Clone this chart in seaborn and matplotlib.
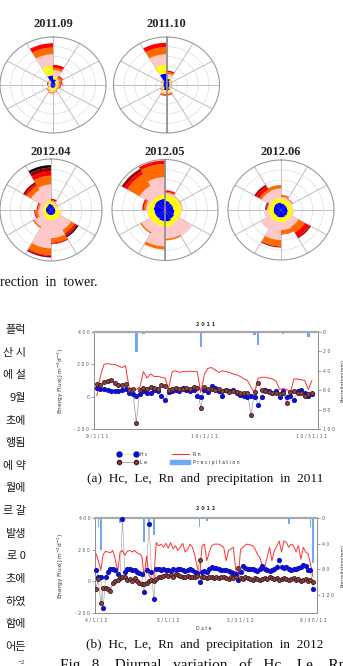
import numpy as np
import pandas as pd
import seaborn as sns
import matplotlib
matplotlib.use('Agg')
import matplotlib.pyplot as plt
from matplotlib.lines import Line2D
from matplotlib.patches import Patch

# ---------------- data ----------------
# wind roses: rows = speed classes (blue, yellow, pink, orange, red, dark red, black)
# columns = 12 direction sectors of 30 deg, starting at N going clockwise
rose_2011_09 = [
    [1.2, 0.6, 0.5, 0.5, 0.5, 0.6, 0.6, 0.6, 0.5, 0.5, 0.6, 2.0],
    [0.6, 0.4, 0.4, 0.3, 0.3, 0.5, 0.6, 0.4, 0.2, 0.2, 0.3, 2.0],
    [1.3, 0.5, 0.3, 0.3, 0.2, 0.3, 0.4, 0.3, 0.2, 0.2, 0.2, 2.4],
    [0.5, 0.5, 0.4, 0.3, 0.2, 0.2, 0.2, 0.2, 0.1, 0.1, 0.1, 1.4],
    [0.6, 0.2, 0.2, 0.1, 0.0, 0.0, 0.0, 0.0, 0.0, 0.0, 0.0, 0.9],
    [0.0, 0.0, 0.0, 0.0, 0.0, 0.0, 0.0, 0.0, 0.0, 0.1, 0.0, 0.0],
    [0.0, 0.0, 0.0, 0.0, 0.0, 0.0, 0.0, 0.0, 0.0, 0.05, 0.0, 0.0],
]
rose_2011_10 = [
    [1.3, 0.8, 0.6, 0.6, 0.7, 1.1, 1.1, 0.7, 0.6, 0.6, 0.8, 2.4],
    [0.4, 0.3, 0.2, 0.2, 0.2, 0.4, 0.4, 0.3, 0.2, 0.2, 0.2, 1.8],
    [0.6, 0.1, 0.1, 0.1, 0.1, 0.3, 0.4, 0.2, 0.1, 0.1, 0.1, 2.2],
    [0.4, 0.1, 0.1, 0.1, 0.1, 0.3, 0.3, 0.2, 0.1, 0.0, 0.1, 1.5],
    [0.3, 0.0, 0.0, 0.0, 0.0, 0.1, 0.1, 0.0, 0.0, 0.0, 0.0, 0.9],
    [0.0] * 12,
    [0.0] * 12,
]
rose_2012_04 = [
    [1.0, 0.8, 0.8, 0.9, 1.0, 1.0, 1.0, 1.0, 1.0, 1.0, 1.0, 1.2],
    [0.4, 0.5, 0.5, 1.0, 1.0, 1.0, 1.0, 0.8, 0.6, 0.5, 0.6, 0.6],
    [0.3, 0.2, 0.2, 0.3, 2.5, 3.5, 5.5, 2.0, 1.0, 0.8, 2.9, 3.2],
    [0.2, 0.1, 0.0, 0.0, 0.8, 0.9, 1.3, 0.3, 0.5, 0.3, 1.0, 1.7],
    [0.3, 0.0, 0.0, 0.0, 0.4, 0.2, 0.2, 0.0, 0.2, 0.2, 0.4, 0.8],
    [0.0, 0.0, 0.0, 0.0, 0.3, 0.1, 0.3, 0.0, 0.0, 0.0, 0.4, 0.8],
    [0.0, 0.0, 0.0, 0.0, 0.2, 0.0, 0.0, 0.0, 0.0, 0.0, 0.0, 0.5],
]
rose_2012_05 = [
    [1.8, 1.6, 1.6, 1.8, 2.0, 2.3, 2.2, 2.0, 2.0, 2.1, 2.2, 2.2],
    [1.2, 1.4, 1.4, 1.2, 1.0, 1.0, 1.0, 1.2, 1.2, 1.0, 0.8, 0.8],
    [0.4, 0.2, 0.2, 0.2, 2.9, 2.4, 4.0, 1.9, 0.2, 0.5, 2.5, 3.5],
    [0.2, 0.1, 0.1, 0.0, 0.0, 0.3, 0.6, 0.3, 0.0, 0.4, 2.7, 2.6],
    [0.3, 0.0, 0.0, 0.0, 0.0, 0.0, 0.0, 0.0, 0.0, 0.3, 0.6, 0.7],
    [0.0, 0.0, 0.0, 0.0, 0.0, 0.0, 0.0, 0.0, 0.0, 0.0, 0.6, 0.0],
    [0.0] * 12,
]
rose_2012_06 = [
    [1.3, 1.2, 1.2, 1.3, 1.4, 1.5, 1.5, 1.4, 1.4, 1.4, 1.5, 1.5],
    [0.9, 0.9, 0.9, 0.9, 0.9, 0.9, 0.9, 0.9, 0.9, 0.9, 0.9, 0.9],
    [0.4, 0.3, 0.2, 0.3, 1.5, 1.6, 3.6, 2.2, 0.9, 0.3, 1.8, 1.9],
    [0.3, 0.2, 0.0, 0.0, 1.4, 0.8, 1.3, 0.0, 0.0, 0.0, 0.5, 0.7],
    [0.1, 0.0, 0.0, 0.0, 1.0, 0.1, 0.0, 0.0, 0.0, 0.2, 0.7, 0.0],
    [0.0, 0.0, 0.0, 0.0, 0.3, 0.0, 0.2, 0.0, 0.0, 0.1, 0.4, 0.0],
    [0.0, 0.0, 0.0, 0.0, 0.0, 0.0, 0.0, 0.0, 0.0, 0.1, 0.0, 0.0],
]
rose_colors = ['#0000FF', '#FFFF00', '#FFC8C8', '#FF6A00', '#FF0000', '#A00000', '#000000']
sector_mid = np.arange(15, 360, 30)

# daily energy fluxes, 2011-09-01 .. 2011-10-31
hc_2011 = [55, 50, 45, 40, 38, 35, 35, 40, 45, 25,
           15, 5, 18, 33, 22, 22, 43, 33, 6, -18,
           27, 33, 43, 38, 53, 43, 38, 43, 6, -2,
           43, 28, 63, 53, 33, 6, 43, 33, 43, 23,
           13, 6, -2, 6, -2, -50, 0, 43, 33, 23,
           33, 0, 33, -2, 6, -18, 33, 43, 23, 6,
           18]
le_2011 = [80, 75, 90, 95, 100, 85, 75, 70, 80, 40,
           45, -160, 40, 55, 50, 60, 55, 50, 70, 65,
           40, 45, 55, 50, 45, 55, 50, 60, 55, -70,
           60, 45, 50, 40, 45, 35, 40, 30, 35, 30,
           25, 20, 25, -115, 30, 85, 40, 35, 30, 25,
           20, 15, 20, -40, 30, 35, 25, 20, 5, 15,
           25]
rn_2011 = [5, 130, 200, 205, 200, 200, 190, 180, 190, 55,
           50, 45, 60, 155, 115, 140, 125, 125, 120, 115,
           50, 155, 160, 150, 155, 155, 158, 155, 155, 25,
           140, 175, 180, 165, 150, 160, 155, 150, 140, 135,
           125, 110, 100, 60, 25, 115, 120, 120, 115, 110,
           95, 45, 50, 45, 25, 110, 108, 105, 100, 45,
           100]
rain_days_2011 = [9, 10, 11, 13, 14, 16, 18, 29, 44, 45, 52, 59]
rain_mm_2011 = [1.5, 1, 21, 2, 1.5, 1, 1, 15, 3.5, 13, 2, 5.5]

# daily energy fluxes, 2012-04-01 .. 2012-06-30
hc_2012 = [69, 25, 30, -170, 30, 58, 79, 79, 70, 48,
           20, 395, 60, 79, 79, 70, 70, 60, 55, 45,
           -67, 70, 365, 60, -110, 75, 79, 70, 75, 70,
           70, 65, 75, 70, 79, 75, 70, 65, 70, 75,
           70, 60, 50, -4, 60, 65, 60, 75, 89, 85,
           85, 75, 70, 72, 70, 65, 60, 50, 45, 10,
           60, 94, 85, 78, 80, 75, 70, 65, 80, 94,
           75, 70, 65, 70, 80, 90, 135, 90, 85, 90,
           80, 70, 75, 80, 85, 90, 100, 95, 70, 70,
           -46]
le_2012 = [-46, 15, -140, -40, -45, -50, -60, -10, 5, 10,
           27, 30, 25, 10, 15, 5, 20, 0, -10, -20,
           -15, -10, 5, 10, 0, 15, 25, 30, 35, 40,
           35, 40, 30, 45, 40, 35, 30, 25, 35, 30,
           30, 25, 35, 135, 30, 25, 20, 30, 25, 20,
           25, 20, 30, 25, 20, 15, 25, 20, 30, 85,
           20, 15, 25, 20, 15, 10, 20, 15, 10, 15,
           20, 15, 25, 20, 15, 20, 10, 15, 20, 15,
           10, 15, 20, 10, 15, 5, 10, 15, 5, 10,
           -4]
rn_2012 = [175, 130, 70, 170, 190, 185, 180, 195, 140, 60,
           185, 195, 165, 190, 195, 185, 195, 180, 175, 160,
           30, 160, 35, 20, 10, 245, 225, 235, 215, 240,
           210, 245, 205, 225, 195, 215, 240, 185, 200, 235,
           215, 165, 90, 30, 225, 235, 130, 185, 225, 235,
           235, 235, 225, 215, 130, 195, 205, 215, 70, 30,
           200, 215, 230, 235, 230, 225, 205, 170, 150, 100,
           90, 150, 215, 130, 195, 220, 255, 185, 255, 245,
           215, 235, 225, 185, 225, 140, 215, 185, 175, 110,
           30]
rain_days_2012 = [1, 2, 10, 20, 22, 24, 43, 46, 55, 80, 89, 90]
rain_mm_2012 = [14, 50, 8, 37, 9, 27, 14, 4, 2, 10, 14, 70]

flux_ticks = [-200, 0, 200, 400]
rain_ticks_2011 = [0, 20, 40, 60, 80, 100]
rain_ticks_2012 = [0, 40, 80, 120]
date_ticks_2011 = ['2011-09-01', '2011-10-01', '2011-10-31']
date_labels_2011 = ['9/1/11', '10/1/11', '10/31/11']
date_ticks_2012 = ['2012-04-01', '2012-05-01', '2012-05-31', '2012-06-30']
date_labels_2012 = ['4/1/12', '5/1/12', '5/31/12', '6/30/12']

kor_lines = ['플럭', '산 시', '에 설', '9월', '초에', '행됨', '에 약', '월에',
             '르 갈', '발생', '로 0', '초에', '하였', '함에', '어든']

# ---------------- figure ----------------
sns.set_theme(style='white')
plt.rcParams['font.family'] = ['DejaVu Sans']

W, H = 343, 666
fig = plt.figure(figsize=(W / 100, H / 100), dpi=100)
SERIF = 'Liberation Serif'
HC_COL, LE_COL, LE_FACE, RN_COL, PR_COL = '#1010C8', '#4A1A1A', '#8A4848', '#FF3030', '#6FA8F5'


def box(x0, y0, x1, y1):
    return [x0 / W, 1 - y1 / H, (x1 - x0) / W, (y1 - y0) / H]


def sp(s):
    return ' '.join(str(s))


def draw_rose(cx, cy, rx, ry, title, title_y, segs, vline=False):
    ax = fig.add_axes(box(cx - rx, cy - ry, cx + rx, cy + ry), projection='polar')
    ax.set_aspect('auto')
    ax.set_theta_zero_location('N')
    ax.set_theta_direction(-1)
    th = np.deg2rad(sector_mid)
    base = np.zeros(12)
    for vals, col in zip(segs, rose_colors):
        v = np.array(vals, float)
        ax.bar(th, v, width=np.deg2rad(30), bottom=base, color=col, linewidth=0, zorder=2)
        base += v
    ax.set_ylim(0, 10)
    ax.set_xticks(np.deg2rad(np.arange(0, 360, 30)))
    ax.set_yticks([2, 4, 6, 8])
    ax.set_xticklabels([])
    ax.set_yticklabels([])
    ax.xaxis.grid(True, color='#b4b4b4', lw=0.6, ls='-')
    ax.yaxis.grid(True, color='#bcbcbc', lw=0.5, ls=(0, (1.5, 1.5)))
    ax.spines['polar'].set_color('#9a9a9a')
    ax.spines['polar'].set_linewidth(0.8)
    if vline:
        ax.plot([0, 0], [0, 10], color='#8c8c8c', lw=1.2, zorder=3)
        ax.plot([np.pi, np.pi], [0, 10], color='#8c8c8c', lw=1.2, zorder=3)
    fig.text(cx / W, 1 - title_y / H, title, ha='center', va='center',
             fontsize=9, fontweight='bold', family=SERIF)


draw_rose(53, 85, 53, 48, '2011.09', 24, rose_2011_09)
draw_rose(166.5, 85, 53, 48, '2011.10', 24, rose_2011_10, vline=True)
draw_rose(51, 210, 51, 51, '2012.04', 152, rose_2012_04)
draw_rose(165, 210, 53, 50.5, '2012.05', 152, rose_2012_05, vline=True)
draw_rose(281, 210, 53, 50, '2012.06', 152, rose_2012_06)


def draw_series(px_box, start, hc, le, rn, rain_days, rain_mm, rain_max, rain_ticks,
                xticks, xlabels, lo, hi, title, title_y, show_date):
    dates = pd.date_range(start, periods=len(hc), freq='D')
    t0 = dates[0]
    rain = np.zeros(len(hc))
    rain[rain_days] = rain_mm

    ax = fig.add_axes(box(*px_box))
    ax2 = ax.twinx()
    ax2.bar(dates, rain, width=0.7, color=PR_COL, linewidth=0, zorder=1)
    ax2.set_ylim(rain_max, 0)

    ax.plot(dates, hc, color='#9a9a9a', lw=0.4, zorder=2)
    ax.plot(dates, le, color='#9a9a9a', lw=0.5, zorder=2)
    sns.lineplot(x=dates, y=rn, ax=ax, color=RN_COL, linewidth=0.7, zorder=3)
    sns.scatterplot(x=dates, y=hc, ax=ax, color=HC_COL, s=14, linewidth=0,
                    zorder=4, clip_on=False)
    sns.scatterplot(x=dates, y=le, ax=ax, color=LE_FACE, edgecolor=LE_COL,
                    s=8, linewidth=0.7, zorder=5)

    ax.set_xlim(t0 + pd.Timedelta(days=lo), t0 + pd.Timedelta(days=hi))
    ax.set_ylim(-200, 400)
    ax.set_yticks(flux_ticks)
    ax.set_yticklabels([sp(v) for v in flux_ticks])
    ax.set_xticks(pd.to_datetime(xticks))
    ax.set_xticklabels([sp(s) for s in xlabels])
    ax2.set_yticks(rain_ticks)
    ax2.set_yticklabels([sp(v) for v in rain_ticks])

    for a in (ax, ax2):
        a.tick_params(axis='both', labelsize=3.3, length=2, width=0.4,
                      colors='#555555', pad=1.5, direction='out')
        for s in a.spines.values():
            s.set_color('#8c8c8c')
            s.set_linewidth(0.6)
        a.spines['top'].set_color('#a8a8a8')
        a.spines['top'].set_linewidth(1.5)
    ax.set_facecolor('none')
    ax.set_zorder(ax2.get_zorder() + 1)

    ax.set_ylabel('Energy Flux(J m$^{-2}$d$^{-1}$)', fontsize=4.2, color='#333333')
    ax.yaxis.set_label_coords((66 - px_box[0]) / (px_box[2] - px_box[0]), 0.5)
    ax2.set_ylabel('Precipitation(mm)', fontsize=3.4, color='#333333')
    ax2.yaxis.set_label_coords((341 - px_box[0]) / (px_box[2] - px_box[0]), 0.5)
    if show_date:
        ax.set_xlabel(sp('Date'), fontsize=3.3, color='#333333')
        ax.xaxis.set_label_coords(0.49, -0.14)
    else:
        ax.set_xlabel('')
    fig.text(((px_box[0] + px_box[2]) / 2) / W, 1 - title_y / H, sp(title),
             ha='center', va='center', fontsize=3.6, fontweight='bold', color='#333333')
    return ax


draw_series((94, 332, 318, 429), '2011-09-01', hc_2011, le_2011, rn_2011,
            rain_days_2011, rain_mm_2011, 100, rain_ticks_2011,
            date_ticks_2011, date_labels_2011, -0.8, 61.7, '2011', 324, False)
draw_series((95, 518, 317, 613), '2012-04-01', hc_2012, le_2012, rn_2012,
            rain_days_2012, rain_mm_2012, 148, rain_ticks_2012,
            date_ticks_2012, date_labels_2012, -0.4, 91.7, '2012', 509, True)

# legend of the 2011 panel
h_hc = Line2D([], [], color='#9a9a9a', lw=0.4, ls=':', marker='o', markersize=3.6,
              markerfacecolor=HC_COL, markeredgecolor=HC_COL)
h_le = Line2D([], [], color='#9a9a9a', lw=0.6, marker='o', markersize=3.0,
              markerfacecolor=LE_FACE, markeredgecolor=LE_COL)
h_rn = Line2D([], [], color=RN_COL, lw=0.8)
h_pr = Patch(color=PR_COL)
fig.legend([h_hc, h_le, h_rn, h_pr], [sp('Hc'), sp('Le'), sp('Rn'), sp('Precipitation')],
           ncol=2, loc='upper left', bbox_to_anchor=(115 / W, 1 - 450 / H), frameon=False,
           fontsize=3.3, numpoints=2, handlelength=4.4, handleheight=1.2,
           columnspacing=5.0, labelspacing=0.5, handletextpad=0.5, borderpad=0)

# captions and page text
fig.text(0 / W, 1 - 283 / H, 'rection  in  tower.', ha='left', va='center',
         fontsize=10, family=SERIF, color='#111111')
fig.text(205 / W, 1 - 479 / H, '(a)  Hc,  Le,  Rn  and  precipitation  in  2011',
         ha='center', va='center', fontsize=9.5, family=SERIF, color='#111111')
fig.text(205 / W, 1 - 645 / H, '(b)  Hc,  Le,  Rn  and  precipitation  in  2012',
         ha='center', va='center', fontsize=9.5, family=SERIF, color='#111111')
fig.text(60 / W, 1 - 658 / H, 'Fig.  8.   Diurnal   variation   of   Hc,   Le,   Rn   and',
         ha='left', va='top', fontsize=11, family=SERIF, color='#111111')

for i, s in enumerate(kor_lines):
    y = 330 + 22.64 * i
    fig.text(26 / W, 1 - y / H, s, ha='right', va='center', fontsize=8,
             family=['Noto Sans CJK KR', 'DejaVu Sans'], color='#1a1a1a')
fig.text(25 / W, 1 - 662 / H, '\u22122', ha='right', va='center', fontsize=5,
         family=SERIF, color='#333333')

fig.savefig('out.png', dpi=100)
